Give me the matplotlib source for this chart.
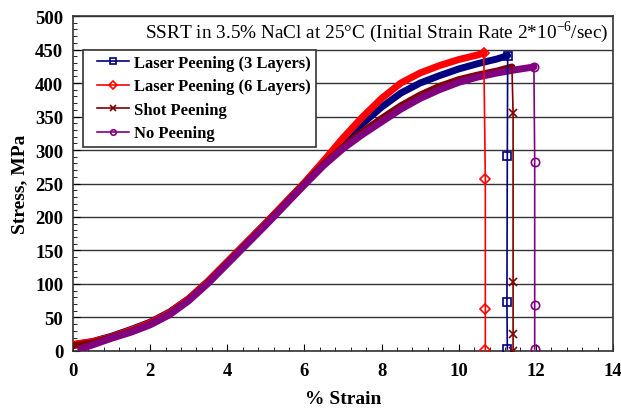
import matplotlib.pyplot as plt
from matplotlib.lines import Line2D
from matplotlib.patches import Rectangle
from matplotlib.ticker import MultipleLocator

plt.rcParams['font.family'] = ['Liberation Serif', 'DejaVu Serif']

# stress-strain curves
lp3_strain = [0.0, 0.5, 1.0, 1.5, 2.0, 2.5, 3.0, 3.5, 4.0, 4.5, 5.0, 5.5, 6.0, 6.5,
              7.0, 7.5, 8.0, 8.5, 9.0, 9.5, 10.0, 10.5, 11.0, 11.27]
lp3_stress = [9, 14, 22, 32, 43, 58, 78, 104, 133, 162, 191, 221, 251, 283,
              312, 339, 364, 385, 400, 411, 421, 429, 436, 441]

lp6_strain = [0.0, 0.5, 1.0, 1.5, 2.0, 2.5, 3.0, 3.5, 4.0, 4.5, 5.0, 5.5, 6.0, 6.5,
              7.0, 7.5, 8.0, 8.5, 9.0, 9.5, 10.0, 10.5, 10.65]
lp6_stress = [10, 14, 21, 31, 42, 57, 78, 104, 133, 162, 191, 221, 251, 284,
              318, 349, 377, 400, 415, 426, 435, 442, 445]

sp_strain = [0.0, 0.5, 1.0, 1.5, 2.0, 2.5, 3.0, 3.5, 4.0, 4.5, 5.0, 5.5, 6.0, 6.5,
             7.0, 7.5, 8.0, 8.5, 9.0, 9.5, 10.0, 10.5, 11.0, 11.38]
sp_stress = [8, 12, 20, 29, 40, 55, 76, 102, 131, 160, 189, 219, 249, 279,
             304, 327, 347, 366, 382, 395, 405, 412, 418, 424]

np_strain = [0.2, 0.5, 1.0, 1.5, 2.0, 2.5, 3.0, 3.5, 4.0, 4.5, 5.0, 5.5, 6.0, 6.5,
             7.0, 7.5, 8.0, 8.5, 9.0, 9.5, 10.0, 10.5, 11.0, 11.5, 11.95]
np_stress = [3, 9, 19, 28, 39, 54, 75, 101, 130, 159, 188, 218, 248, 277,
             302, 323, 342, 361, 377, 390, 401, 409, 415, 420, 424]

# fracture drop after the peak
lp3_drop_x = [11.27, 11.26, 11.25, 11.26]
lp3_drop_y = [441, 291, 73, 3]
lp6_drop_x = [10.65, 10.69, 10.69, 10.69]
lp6_drop_y = [445, 256, 62, 2]
sp_drop_x = [11.38, 11.41, 11.41, 11.41, 11.41]
sp_drop_y = [424, 355, 103, 25, 0]
np_drop_x = [11.95, 11.97, 11.97, 11.97]
np_drop_y = [424, 282, 69, 3]

labels = ['Laser Peening (3 Layers)', 'Laser Peening (6 Layers)', 'Shot Peening', 'No Peening']
colors = ['#000080', '#FF0000', '#800000', '#800080']
markers = ['s', 'D', 'x', 'o']

curves = [(lp3_strain, lp3_stress, lp3_drop_x, lp3_drop_y),
          (lp6_strain, lp6_stress, lp6_drop_x, lp6_drop_y),
          (sp_strain, sp_stress, sp_drop_x, sp_drop_y),
          (np_strain, np_stress, np_drop_x, np_drop_y)]

fig = plt.figure(figsize=(6.21, 4.10), dpi=100)
ax = fig.add_axes([0.1176, 0.1415, 0.8695, 0.817])

for (x, y, dx, dy), c, m in zip(curves, colors, markers):
    ax.plot(x, y, color=c, lw=5, solid_capstyle='round', solid_joinstyle='round', zorder=3)
    ms = 6 if m != 'D' else 5
    start = 1 if m == 'x' else 0
    ax.plot(dx, dy, color=c, lw=1.2, marker=m, ms=ms, mfc='none', mec=c, mew=1.2,
            markevery=slice(start, None), zorder=4)

ax.set_xlim(0, 14)
ax.set_ylim(0, 500)
ax.xaxis.set_major_locator(MultipleLocator(2))
ax.xaxis.set_minor_locator(MultipleLocator(0.4))
ax.yaxis.set_major_locator(MultipleLocator(50))
ax.yaxis.set_minor_locator(MultipleLocator(10))
ax.tick_params(which='both', direction='in', top=False, right=False)
ax.tick_params(which='major', length=5, labelsize=13.5)
ax.tick_params(axis='y', which='major', pad=7)
ax.tick_params(axis='x', which='major', pad=8)
ax.tick_params(which='minor', length=3)
for lab in ax.get_xticklabels() + ax.get_yticklabels():
    lab.set_fontweight('bold')

ax.grid(True, axis='y', color='#333333', lw=1)
ax.set_axisbelow(True)
for s in ax.spines.values():
    s.set_color('#333333')
    s.set_linewidth(1.2)

ax.set_xlabel('% Strain', fontsize=14, fontweight='bold', labelpad=8)
ax.set_ylabel('Stress, MPa', fontsize=14, fontweight='bold', labelpad=5)

ax.text(0.991, 0.955, r'SSRT in 3.5% NaCl at 25°C (Initial Strain Rate 2*10$^{\mathregular{-6}}$/sec)',
        transform=ax.transAxes, ha='right', va='center', fontsize=13.9)

# legend box drawn separately so the inner padding can match
ax.add_patch(Rectangle((0.0185, 0.609), 0.4315, 0.2895, transform=ax.transAxes,
                       facecolor='white', edgecolor='#333333', lw=1.2, zorder=5))
handles = [Line2D([0], [0], color=c, lw=1.2, marker=m, ms=4, mfc='none', mec=c, mew=1.2)
           for c, m in zip(colors, markers)]
leg = ax.legend(handles, labels, loc='upper left', bbox_to_anchor=(0.0444, 0.884),
                prop={'weight': 'bold', 'size': 12}, frameon=False, handlelength=1.9,
                handletextpad=0.3, labelspacing=0.45, borderpad=0, borderaxespad=0)
leg.set_zorder(6)

fig.savefig('out.png', dpi=100)
